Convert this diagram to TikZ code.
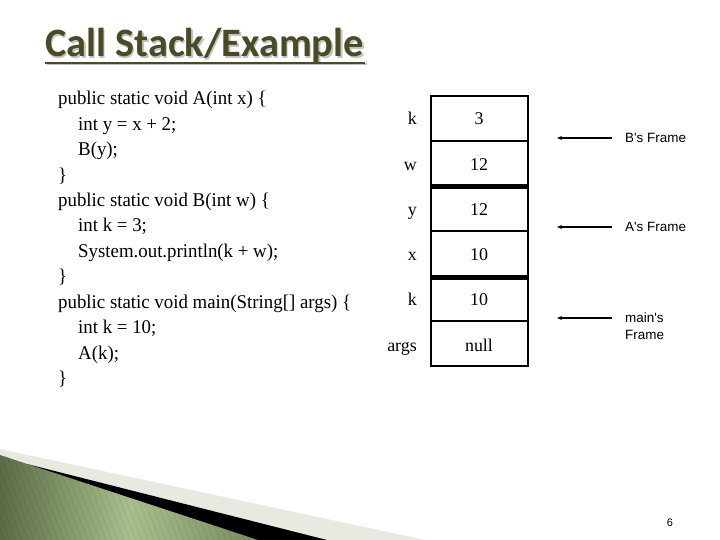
\documentclass[tikz,border=0pt]{standalone}
\usepackage{fontspec}
\usetikzlibrary{arrows.meta}
\setmainfont{Liberation Serif}
\newfontfamily\codefont[FakeStretch=0.97]{Liberation Serif}
\newfontfamily\titlefont{Carlito}
\newfontfamily\arialfont{Liberation Sans}
\definecolor{olive}{RGB}{74,74,40}
\definecolor{shadowgray}{RGB}{195,197,185}
\definecolor{bandgray}{RGB}{230,234,224}
\definecolor{gdark}{RGB}{92,108,70}
\definecolor{glight}{RGB}{170,190,142}
\definecolor{gmid}{RGB}{118,138,92}
\begin{document}
\begin{tikzpicture}[x=1bp,y=-1bp,
  code/.style={anchor=base west,inner sep=0pt,font=\codefont\fontsize{19.5}{23}\selectfont},
  cell/.style={draw=black,line width=2bp,minimum width=97bp,minimum height=45.2bp,inner sep=0pt},
  val/.style={anchor=base,inner sep=0pt,font=\fontsize{18}{21}\selectfont},
  lab/.style={anchor=base east,inner sep=0pt,font=\fontsize{18}{21}\selectfont},
  sep/.style={line width=5bp,line cap=butt},
  arr/.style={-{Stealth[length=5bp,width=4bp]},line width=1.3bp},
  framelab/.style={anchor=west,inner sep=0pt,align=left,font=\arialfont\fontsize{13.5}{17}\selectfont}
]
\useasboundingbox (0,0) rectangle (720,540);
\fill[white] (0,0) rectangle (720,540);

% bottom-left decoration
\fill[bandgray] (0,449) -- (425,540) -- (0,540) -- cycle;
\fill[black] (27,464) -- (327,540) -- (0,540) -- cycle;
\begin{scope}
\clip (0,455) -- (258,540) -- (0,540) -- cycle;
\shade[left color=gdark,right color=gmid,middle color=glight] (0,450) rectangle (260,540);
\foreach \i in {-120,-114,...,260}
  \draw[black,opacity=0.10,line width=0.5bp] (\i,440) -- (\i+40,540);
\end{scope}

% title
\node[anchor=base west,inner sep=0pt,text=shadowgray,font=\titlefont\bfseries\fontsize{40.5}{44}\selectfont] (titleshadow) at (46.5,58.5) {Call Stack/Example};
\fill[shadowgray] (46.5,63.5) rectangle (366.5,65.5);
\node[anchor=base west,inner sep=0pt,text=olive,font=\titlefont\bfseries\fontsize{40.5}{44}\selectfont] (title) at (45,57) {Call Stack/Example};
\fill[olive] (45,62) rectangle (365,64);

% code
\node[code] (c1) at (58,105) {public static void A(int x) \{};
\node[code] (c2) at (78,130.4) {int y = x + 2;};
\node[code] (c3) at (78,155.8) {B(y);};
\node[code] (c4) at (58,181.2) {\}};
\node[code] (c5) at (58,206.6) {public static void B(int w) \{};
\node[code] (c6) at (78,232) {int k = 3;};
\node[code] (c7) at (78,257.4) {System.out.println(k + w);};
\node[code] (c8) at (58,282.8) {\}};
\node[code] (c9) at (58,308.2) {public static void main(String[] args) \{};
\node[code] (c10) at (78,333.6) {int k = 10;};
\node[code] (c11) at (78,359) {A(k);};
\node[code] (c12) at (58,384.4) {\}};

% stack cells
\node[cell] (r1) at (479.5,118.4) {};
\node[cell] (r2) at (479.5,163.4) {};
\node[cell] (r3) at (479.5,208.4) {};
\node[cell] (r4) at (479.5,253.4) {};
\node[cell] (r5) at (479.5,298.4) {};
\node[cell] (r6) at (479.5,343.4) {};
\draw[sep] (r2.south west) -- (r2.south east);
\draw[sep] (r4.south west) -- (r4.south east);

\node[val] (v1) at (479,125) {3};
\node[val] (v2) at (479,170.2) {12};
\node[val] (v3) at (479,215.4) {12};
\node[val] (v4) at (479,260.6) {10};
\node[val] (v5) at (479,305.8) {10};
\node[val] (v6) at (479,351) {null};

\node[lab] (l1) at (417,125) {k};
\node[lab] (l2) at (417,170.2) {w};
\node[lab] (l3) at (417,215.4) {y};
\node[lab] (l4) at (417,260.6) {x};
\node[lab] (l5) at (417,305.8) {k};
\node[lab] (l6) at (417,351) {args};

% frame arrows
\coordinate (bs) at (612,138);
\coordinate (be) at (557,138);
\coordinate (as) at (612,227);
\coordinate (ae) at (557,227);
\coordinate (ms) at (612,318);
\coordinate (me) at (557,318);
\draw[arr] (bs) -- (be);
\draw[arr] (as) -- (ae);
\draw[arr] (ms) -- (me);
\node[framelab] (fb) at (625,138) {B\textquotesingle s Frame};
\node[framelab] (fa) at (625,227) {A\textquotesingle s Frame};
\node[framelab] (fm) at (625,326.5) {main\textquotesingle s\\Frame};

% page number
\node[inner sep=0pt,font=\arialfont\fontsize{11}{13}\selectfont] (pg) at (670,523) {6};
\end{tikzpicture}
\end{document}
